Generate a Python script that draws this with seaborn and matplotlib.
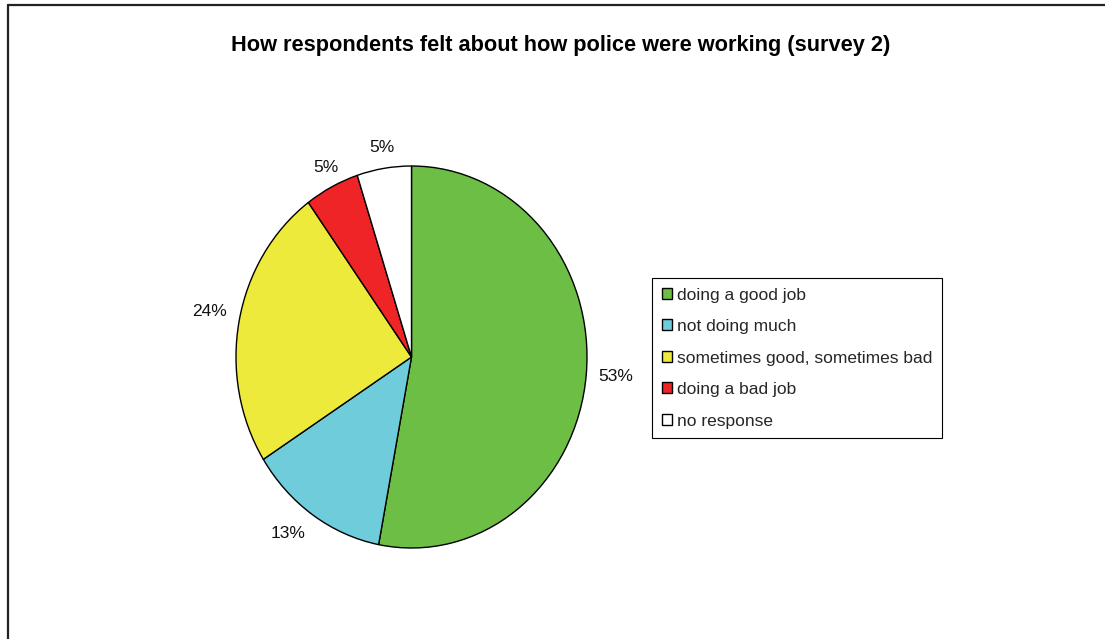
import numpy as np
import matplotlib
matplotlib.use("Agg")
import matplotlib.pyplot as plt
from matplotlib.lines import Line2D
import seaborn as sns

# Survey responses (percent of respondents)
categories = ["doing a good job", "not doing much", "sometimes good, sometimes bad",
              "doing a bad job", "no response"]
shares = [53, 13, 24, 5, 5]
slice_colors = ["#6CBE45", "#6FCCDA", "#EDEA3C", "#EE2426", "#FFFFFF"]
title = "How respondents felt about how police were working (survey 2)"

sns.set_theme(style="white")
plt.rcParams["font.family"] = ["Liberation Sans", "DejaVu Sans"]

W, H = 1105, 639
fig = plt.figure(figsize=(W / 100, H / 100), dpi=100)
fig.patch.set_facecolor("white")

# Pie axes placed in pixel terms (slightly taller than wide)
left, right, top, bottom = 236, 587, 166, 548
ax = fig.add_axes([left / W, 1 - bottom / H, (right - left) / W, (bottom - top) / H])
wedges, _ = ax.pie(shares, colors=slice_colors, startangle=90, counterclock=False,
                   wedgeprops=dict(edgecolor="black", linewidth=1.0))
ax.set_aspect("auto")
ax.set_xlim(-1, 1)
ax.set_ylim(-1, 1)
ax.axis("off")

# Percentage labels just outside each slice
for w, v in zip(wedges, shares):
    ang = np.deg2rad((w.theta1 + w.theta2) / 2)
    c, s = np.cos(ang), np.sin(ang)
    r = 1.07
    ha = "left" if c > 0.5 else ("right" if c < -0.5 else "center")
    va = "bottom" if s > 0.15 else ("top" if s < -0.15 else "center")
    ax.text(r * c, r * s, f"{v}%", ha=ha, va=va, fontsize=12.5, color="#111111")

fig.text(561 / W, 1 - 45 / H, title, ha="center", va="center",
         fontsize=15.7, fontweight="bold", color="black")

leg = fig.legend(wedges, categories, loc="upper left",
                 bbox_to_anchor=(652 / W, 1 - 278 / H), bbox_transform=fig.transFigure,
                 borderaxespad=0, fontsize=12.5, frameon=True, fancybox=False,
                 framealpha=1, edgecolor="black", handlelength=0.6, handleheight=0.6,
                 handletextpad=0.3, labelspacing=0.95, borderpad=0.55)
leg.get_frame().set_linewidth(0.8)

# Outer chart-area frame (top and left edges)
fig.add_artist(Line2D([8 / W, 1], [1 - 5 / H, 1 - 5 / H], transform=fig.transFigure,
                      color="#222222", linewidth=1.6))
fig.add_artist(Line2D([8 / W, 8 / W], [0, 1 - 5 / H], transform=fig.transFigure,
                      color="#222222", linewidth=1.6))

fig.savefig("out.png", dpi=100, facecolor="white")
